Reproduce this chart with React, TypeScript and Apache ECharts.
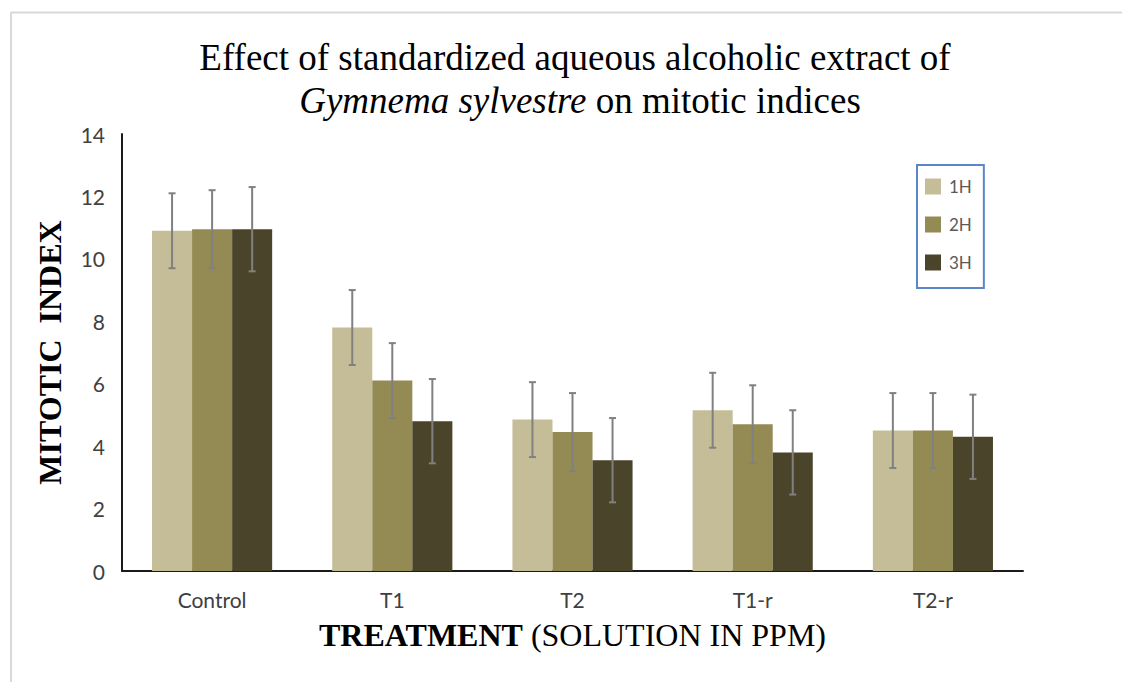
import React, { useEffect, useRef } from "react";
import * as echarts from "echarts";

const categories = ["Control", "T1", "T2", "T1-r", "T2-r"];
const seriesNames = ["1H", "2H", "3H"];
const values1H = [10.9, 7.8, 4.85, 5.15, 4.5];
const values2H = [10.95, 6.1, 4.45, 4.7, 4.5];
const values3H = [10.95, 4.8, 3.55, 3.8, 4.3];
const err1H = [1.2, 1.2, 1.2, 1.2, 1.2];
const err2H = [1.25, 1.2, 1.25, 1.25, 1.2];
const err3H = [1.35, 1.35, 1.35, 1.35, 1.35];
const colors = ["#c4bd97", "#948a54", "#4a452a"];
const yTicks = { min: 0, max: 14, interval: 2 };

const CAT_GAP = 1 / 3;
const sans = "Lato, 'Open Sans', sans-serif";
const serif = "'Liberation Serif', 'DejaVu Serif', serif";

export default function App() {
  const ref = useRef<HTMLDivElement>(null);
  useEffect(() => {
    if (!ref.current) return;
    const chart = echarts.init(ref.current, null, { renderer: "svg" });
    const vals = [values1H, values2H, values3H];
    const errs = [err1H, err2H, err3H];

    const barSeries = vals.map((v, s) => ({
      name: seriesNames[s],
      type: "bar",
      data: v,
      barGap: "0%",
      barCategoryGap: "33.33%",
      itemStyle: { color: colors[s] },
      z: 2,
    }));

    const errSeries = vals.map((v, s) => ({
      type: "custom",
      name: seriesNames[s] + " err",
      z: 5,
      silent: true,
      encode: { x: 0, y: [1, 2] },
      data: v.map((m, i) => [i, m - errs[s][i], m + errs[s][i]]),
      renderItem: (params: any, api: any) => {
        const cat = api.value(0);
        const lo = api.coord([cat, api.value(1)]);
        const hi = api.coord([cat, api.value(2)]);
        const band = api.size([1, 0])[0];
        const barW = (band * (1 - CAT_GAP)) / 3;
        const x = lo[0] + (s - 1) * barW;
        const cap = 3.5;
        const style = { stroke: "#808080", lineWidth: 2 };
        return {
          type: "group",
          children: [
            { type: "line", shape: { x1: x, y1: lo[1], x2: x, y2: hi[1] }, style },
            { type: "line", shape: { x1: x - cap, y1: lo[1], x2: x + cap, y2: lo[1] }, style },
            { type: "line", shape: { x1: x - cap, y1: hi[1], x2: x + cap, y2: hi[1] }, style },
          ],
        };
      },
    }));

    chart.setOption({
      animation: false,
      backgroundColor: "#ffffff",
      grid: { left: 122, right: 99, top: 134, bottom: 111, containLabel: false },
      graphic: [
        { type: "line", shape: { x1: 11, y1: 12.5, x2: 1122, y2: 12.5 }, style: { stroke: "#d9d9d9", lineWidth: 2 } },
        { type: "line", shape: { x1: 11, y1: 12, x2: 11, y2: 682 }, style: { stroke: "#d9d9d9", lineWidth: 2 } },
        {
          type: "text",
          x: 575,
          y: 57,
          style: {
            text: "Effect of standardized aqueous alcoholic extract of",
            font: "37px " + serif,
            fill: "#000",
            textAlign: "center",
            textVerticalAlign: "middle",
          },
        },
        {
          type: "text",
          x: 580,
          y: 100,
          style: {
            text: "{i|Gymnema sylvestre} on mitotic indices",
            font: "37px " + serif,
            fill: "#000",
            textAlign: "center",
            textVerticalAlign: "middle",
            rich: {
              i: { fontStyle: "italic", fontFamily: serif, fontSize: 37, fill: "#000" },
            },
          },
        },
      ],
      legend: {
        data: seriesNames,
        orient: "vertical",
        left: 917,
        top: 165,
        icon: "rect",
        itemWidth: 16,
        itemHeight: 16,
        itemGap: 21,
        padding: [13, 12, 17, 8],
        borderColor: "#5b86c9",
        borderWidth: 2,
        textStyle: { fontFamily: sans, fontSize: 17, color: "#595959", padding: [0, 0, 0, 3] },
      },
      xAxis: {
        type: "category",
        data: categories,
        name: "{b|TREATMENT} (SOLUTION IN PPM)",
        nameLocation: "middle",
        nameGap: 48,
        nameTextStyle: {
          fontFamily: serif,
          fontSize: 32,
          color: "#000",
          rich: { b: { fontFamily: serif, fontSize: 32, fontWeight: "bold", color: "#000" } },
        },
        axisLine: { show: true, lineStyle: { color: "#1a1a1a", width: 2 } },
        axisTick: { show: false },
        axisLabel: { fontFamily: sans, fontSize: 21, color: "#404040", margin: 18 },
        splitLine: { show: false },
      },
      yAxis: {
        type: "value",
        min: yTicks.min,
        max: yTicks.max,
        interval: yTicks.interval,
        name: "MITOTIC  INDEX",
        nameLocation: "middle",
        nameGap: 56,
        nameTextStyle: { fontFamily: serif, fontSize: 32, fontWeight: "bold", color: "#000" },
        axisLine: { show: true, lineStyle: { color: "#1a1a1a", width: 2 } },
        axisTick: { show: false },
        axisLabel: { fontFamily: sans, fontSize: 21, color: "#404040", margin: 17 },
        splitLine: { show: false },
      },
      series: [...barSeries, ...errSeries],
    });
    return () => chart.dispose();
  }, []);
  return (
    <div
      ref={ref}
      style={{ position: "fixed", left: 0, top: 0, width: 1122, height: 682, background: "#fff" }}
    />
  );
}
